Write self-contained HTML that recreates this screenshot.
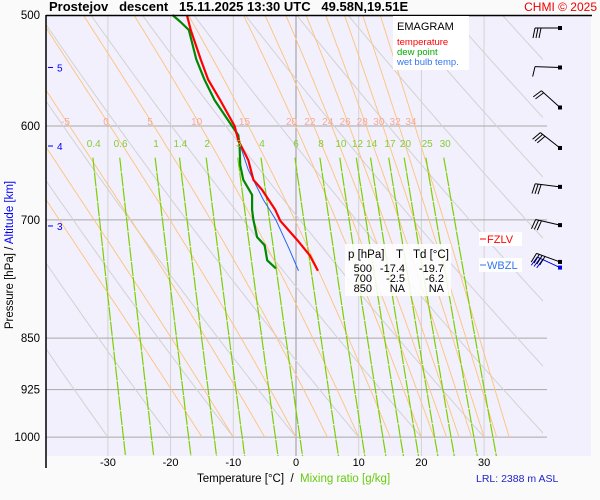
<!DOCTYPE html>
<html><head><meta charset="utf-8"><style>
html,body{margin:0;padding:0;background:#fafafa;}
svg{display:block;font-family:"Liberation Sans",sans-serif;}
</style></head><body>
<svg id="c" width="600" height="500" xmlns="http://www.w3.org/2000/svg">
<rect x="0" y="0" width="600" height="500" fill="#fafafa"/>
<rect x="46" y="15" width="545" height="441" fill="#f1f0fc"/>
<g id="grid"></g>
<g id="adiab"></g>
<g id="mix"></g>
<g id="prof"></g>
<g id="barbs"></g>
<line x1="46" y1="15" x2="46" y2="468" stroke="#000" stroke-width="1.5"/>
<line x1="46" y1="15.5" x2="592" y2="15.5" stroke="#000" stroke-width="1.5"/>
<text x="49" y="11" font-size="13" font-weight="bold" xml:space="preserve">Prostejov   descent   15.11.2025 13:30 UTC   49.58N,19.51E</text>
<text x="597" y="11" font-size="12" fill="#e00" text-anchor="end">CHMI © 2025</text>
<g>
<rect x="393" y="16" width="76" height="54" fill="#fff"/>
<text x="397" y="30" font-size="11">EMAGRAM</text>
<text x="397" y="45" font-size="9.5" fill="#f00">temperature</text>
<text x="397" y="55" font-size="9.5" fill="#0a0">dew point</text>
<text x="397" y="65" font-size="9.5" fill="#3377ee">wet bulb temp.</text>
</g>
<g font-size="11">
<rect x="345" y="244" width="106" height="52" fill="#fff" opacity="0.85"/>
<text x="348" y="258" font-size="11.5">p [hPa]</text><text x="396" y="258" font-size="11.5">T</text><text x="413" y="258" font-size="11.5">Td [°C]</text>
<text x="372" y="272" text-anchor="end">500</text><text x="405" y="272" text-anchor="end">-17.4</text><text x="444" y="272" text-anchor="end">-19.7</text>
<text x="372" y="282" text-anchor="end">700</text><text x="405" y="282" text-anchor="end">-2.5</text><text x="444" y="282" text-anchor="end">-6.2</text>
<text x="372" y="292" text-anchor="end">850</text><text x="405" y="292" text-anchor="end">NA</text><text x="444" y="292" text-anchor="end">NA</text>
</g>
<g><rect x="479" y="232" width="43" height="14" fill="#fff"/><line x1="480" y1="239" x2="486" y2="239" stroke="#f00"/><text x="487" y="243" font-size="11" fill="#f00">FZLV</text></g>
<g><rect x="479" y="258" width="43" height="14" fill="#fff"/><line x1="480" y1="265" x2="486" y2="265" stroke="#3377ee"/><text x="487" y="269" font-size="11" fill="#3377ee">WBZL</text></g>
<text x="0" y="0" transform="translate(13,255) rotate(-90)" font-size="11.5" text-anchor="middle">Pressure [hPa]  /  <tspan fill="#00f">Altitude [km]</tspan></text>
<text x="197" y="482" font-size="11.5" xml:space="preserve">Temperature [°C]  /  <tspan fill="#66cc11">Mixing ratio [g/kg]</tspan></text>
<text x="476" y="482" font-size="10.5" fill="#22c">LRL: 2388 m ASL</text>
</svg>
<script>
const NS="http://www.w3.org/2000/svg";
const pLevels=[500,600,700,850,925,1000];
const tTicks=[-30,-20,-10,0,10,20,30];
const altKm=[5,4,3];
const altP=[545,620,707];
const thetaW=[-15,-10,-5,0,5,10,15,20,22,24,26,28,30,32,34];
const thetaLabels=[-5,0,5,10,15,20,22,24,26,28,30,32,34];
const dryTheta=[-40,-30,-20,-10,0,10,20,30,40,50,60,70,80,90,100];
const mixRatios=[0.4,0.6,1,1.4,2,3,4,6,8,10,12,14,17,20,25,30];
const tempP=[500,512.4,537.8,556,574.9,600,614.3,634.5,655.4,666.3,688.6,701,723.6,742,761];
const tempT=[-17.4,-16.8,-15.2,-14.0,-12.1,-9.8,-9.2,-7.6,-6.8,-5.4,-3.3,-2.5,0.2,2.2,3.5];
const dewP=[500,505.8,512.4,537.8,556,574.9,600,609,619.5,639.8,655.4,671.8,688.6,700,720,729.6,748,758];
const dewT=[-19.7,-18.4,-17.1,-15.9,-14.6,-13.0,-10.2,-9.2,-9.0,-8.9,-8.4,-7.0,-7.0,-6.8,-6.2,-5.0,-4.6,-3.2];
const wbP=[600,619.5,644.8,677.4,700,735.6,761];
const wbT=[-10.0,-8.9,-7.6,-5.2,-3.2,-1.0,0.4];
const windP=[510.8,545,582,622,663,706,750];
const windDir=[270,272,312,308,277,283,290];
const windKt=[30,10,20,30,30,30,40];
const wbWindP=[757];
const wbWindDir=[295];
const wbWindKt=[30];
const X=t=>296+t*6.27;
const Y=p=>15+609*Math.log(p/500);
function el(tag,attrs,parent){const e=document.createElementNS(NS,tag);for(const k in attrs)e.setAttribute(k,attrs[k]);parent.appendChild(e);return e;}
const svg=document.getElementById('c');
const grid=document.getElementById('grid'),adiab=document.getElementById('adiab'),mix=document.getElementById('mix'),prof=document.getElementById('prof'),barbs=document.getElementById('barbs');
const defs=el('defs',{},svg);const cp=el('clipPath',{id:'pc'},defs);el('rect',{x:46,y:15,width:497,height:441},cp);
adiab.setAttribute('clip-path','url(#pc)');mix.setAttribute('clip-path','url(#pc)');
tTicks.forEach(t=>{
 const l=el('line',{x1:X(t),y1:15,x2:X(t),y2:456,stroke:t===0?'#999':'#d4d4d4','stroke-width':1},grid);
 
 
 const tx=el('text',{x:X(t),y:466,'font-size':11,'text-anchor':'middle'},svg);tx.textContent=t;
 
 
});
pLevels.forEach(p=>{
 if(p>500){const l=el('line',{x1:46,y1:Y(p),x2:547,y2:Y(p),stroke:'#a8a8a8','stroke-width':1},grid);
 
 }
 const tx=el('text',{x:40,y:Y(p)+4,'font-size':11.5,'text-anchor':'end'},svg);tx.textContent=p;
 
 
});
altKm.forEach((k,i)=>{const y=Y(altP[i]);
 el('line',{x1:48,y1:y,x2:53,y2:y,stroke:'#00f'},svg);
 const tx=el('text',{x:57,y:y+4,'font-size':10,fill:'#00f'},svg);tx.textContent=k;
 
 });
function es(T){return 6.112*Math.exp(17.67*T/(T+243.5));}
function moistLapse(T,p){const Tk=T+273.15;const r=0.622*es(T)/(p-es(T));const Lv=2.5e6,Rd=287,cp=1005,e=0.622;
 return (Rd*Tk+Lv*r)/(cp+Lv*Lv*r*e/(Rd*Tk*Tk))/p;}
dryTheta.forEach(th=>{const pts=[];for(let p=470;p<=1000.01;p+=10)pts.push(X((th+273.15)*Math.pow(p/1000,0.286)-273.15).toFixed(1)+','+Y(p).toFixed(1));
 const l=el('polyline',{points:pts.join(' '),fill:'none',stroke:'#d2d2d2','stroke-width':1},adiab);
 
 });
const labX={};
thetaW.forEach(T0=>{let T=T0,pts=[];for(let p=1000;p>=470;p-=2){pts.push(X(T).toFixed(1)+','+Y(p).toFixed(1));if(Math.abs(p-600)<1)labX[T0]=X(T);T-=moistLapse(T,p)*2;}
 const l=el('polyline',{points:pts.join(' '),fill:'none',stroke:'#ffc27a','stroke-width':0.9},adiab);
 
 });
thetaLabels.forEach(v=>{
 const tx=el('text',{x:labX[v]-4,y:125,'font-size':10,fill:'#f5a898','text-anchor':'middle'},svg);tx.textContent=v;
 
 });
function tdFromW(w,p){const e=w*p/(622+w);const x=Math.log(e/6.112);return 243.5*x/(17.67-x);}
mixRatios.forEach(w=>{const pts=[];for(let p=632;p<=1035;p+=5)pts.push(X(tdFromW(w,p)).toFixed(1)+','+Y(p).toFixed(1));
 const l=el('polyline',{points:pts.join(' '),fill:'none',stroke:'#7ccf00','stroke-width':1.2,'stroke-dasharray':'14 1'},mix);
 
 
 const tx=el('text',{x:X(tdFromW(w,640)),y:147,'font-size':10,fill:'#88cc33','text-anchor':'middle'},svg);tx.textContent=w;
 
 });
function line(P,T,color,w,name){const pts=P.map((p,i)=>X(T[i]).toFixed(1)+','+Y(p).toFixed(1));
 const l=el('polyline',{points:pts.join(' '),fill:'none',stroke:color,'stroke-width':w,'stroke-linejoin':'round'},prof);
 
 }
line(wbP,wbT,'#2266ee',1,'wet-bulb-line');
line(dewP,dewT,'#008800',2.2,'dew-point-line');
line(tempP,tempT,'#ff0000',2.2,'temperature-line');
function drawBarbs(P,D,S,color,name){P.forEach((p,i)=>{const y=Y(p),x=560;const a=D[i]*Math.PI/180;
 const dx=Math.sin(a),dy=-Math.cos(a);const L=25;const tx=x+dx*L,ty=y+dy*L;
 const g=el('g',{},barbs);
 
 
 el('line',{x1:x,y1:y,x2:tx,y2:ty,stroke:color,'stroke-width':1},g);
 el('rect',{x:x-2,y:y-2,width:4,height:4,fill:color},g);
 const n=Math.round(S[i]/10);const px=-dy,py=dx;
 for(let k=0;k<n;k++){const bx=tx-dx*3*k,by=ty-dy*3*k;
  el('line',{x1:bx,y1:by,x2:bx+px*(-10)+dx*2,y2:by+py*(-10)+dy*2,stroke:color,'stroke-width':1},g);}
});}
drawBarbs(wbWindP,wbWindDir,wbWindKt,'#0000ee','wet-bulb-wind-barb');
drawBarbs(windP,windDir,windKt,'#000','wind-barb');
</script>
</body></html>
